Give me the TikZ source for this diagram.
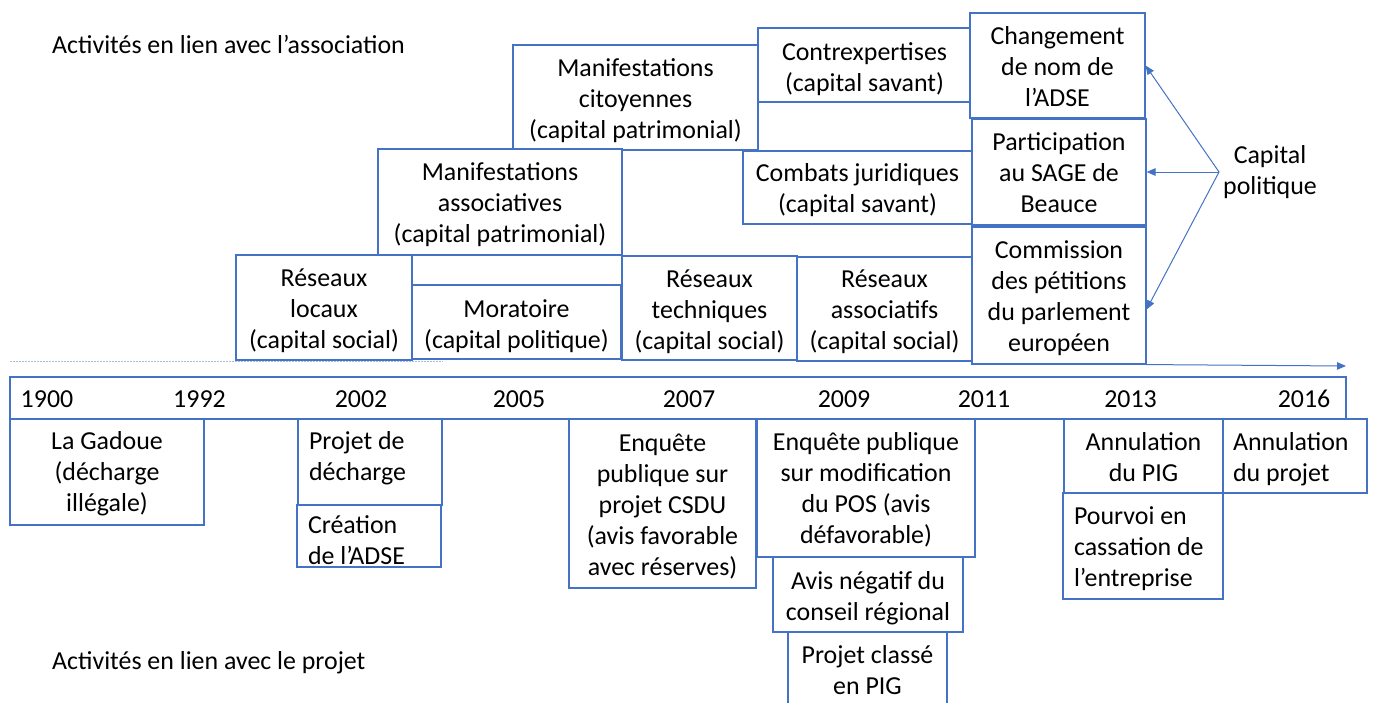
\documentclass[tikz,border=0pt]{standalone}
\usepackage{fontspec}
\setmainfont{Carlito}
\usetikzlibrary{arrows.meta,calc}
\definecolor{boxblue}{HTML}{4472C4}
\definecolor{dotblue}{HTML}{A9BCE0}
\newcommand\brk{\\\strut}
\newcommand\fnt{\fontsize{25.9}{31}\selectfont}
% \bx[text options]{name}{x1}{y1}{x2}{y2}{text offset}{text}
\newcommand\bx[8][]{%
  \node[box,minimum width={(#5-#3)*1pt},minimum height={(#6-#4)*1pt}] (#2) at ({(#3+#5)/2},{(#4+#6)/2}) {};
  \node[btxt,#1] (#2t) at ($(#2.center)+(0,#7)$) {#8};}
\tikzset{
  box/.style={draw=boxblue, fill=white, line width=1.1pt, inner sep=0pt},
  btxt/.style={inner sep=0pt, align=center, font=\fnt, execute at begin node=\strut},
  lbl/.style={inner sep=0pt, font=\fnt, execute at begin node=\strut},
  conn/.style={draw=boxblue, line width=1pt, -{Triangle[length=9pt,width=7.5pt]}},
  dotline/.style={draw=dotblue, line width=1.2pt, dash pattern=on 1.5pt off 1.5pt}
}
\begin{document}
\begin{tikzpicture}[x=1pt,y=-1pt]
\useasboundingbox (0,0) rectangle (1375,702);
% labels
\node[lbl,anchor=west] (assoc) at (52,47) {Activités en lien avec l’association};
\node[lbl,anchor=west] (proj) at (52,663) {Activités en lien avec le projet};
% top boxes
\bx{mc}{513}{45}{758}{150}{6}{Manifestations\brk citoyennes\brk (capital patrimonial)}
\bx{ce}{758}{28}{971}{102}{6.5}{Contrexpertises\brk (capital savant)}
\bx{cj}{743}{151}{972}{224}{5}{Combats juridiques\brk (capital savant)}
\bx{chg}{970}{13}{1145}{118}{6}{Changement\brk de nom de\brk l’ADSE}
\bx{sage}{972}{119}{1146}{225}{5}{Participation\brk au SAGE de\brk Beauce}
\bx{com}{972}{227}{1146}{364}{5}{Commission\brk des pétitions\brk du parlement\brk européen}
\bx{ma}{378}{149}{622}{255}{5.5}{Manifestations\brk associatives\brk (capital patrimonial)}
\bx{rl}{236}{255}{412}{360}{6}{Réseaux\brk locaux\brk (capital social)}
\bx{mor}{412}{285}{621}{359}{6.5}{Moratoire\brk (capital politique)}
\bx{rt}{622}{256}{797}{360}{5.8}{Réseaux\brk techniques\brk (capital social)}
\bx{ra}{797}{257}{972}{361}{5}{Réseaux\brk associatifs\brk (capital social)}
% dotted line
\coordinate (d0) at (10,361.5);
\coordinate (d1) at (443,361.5);
\draw[dotline] (d0) -- (d1);
% capital politique
\node[lbl,align=center] (cap) at (1270,175) {Capital\brk politique};
\coordinate (cp) at (1219,172);
\draw[conn] (cp) -- (chg.east);
\draw[conn] (cp) -- (sage.east);
\draw[conn] (cp) -- ([yshift=-14pt]com.east);
% main arrow
\coordinate (tend) at (1346,366);
\draw[conn] (com.south east) -- (tend);
% timeline
\node[box,minimum width=1336pt,minimum height=42pt] (tl) at (678,398) {};
\node[lbl] (y1900) at (47,401) {1900};
\node[lbl] (y1992) at (199.5,401) {1992};
\node[lbl] (y2002) at (361,401) {2002};
\node[lbl] (y2005) at (519,401) {2005};
\node[lbl] (y2007) at (689,401) {2007};
\node[lbl] (y2009) at (844,401) {2009};
\node[lbl] (y2011) at (984,401) {2011};
\node[lbl] (y2013) at (1130.5,401) {2013};
\node[lbl] (y2016) at (1304,401) {2016};
% bottom boxes
\bx{gad}{10}{419}{204}{525}{4.5}{La Gadoue\brk (décharge\brk illégale)}
\bx[align=flush left,text width=122pt]{pd}{298}{419}{442}{505}{-3}{Projet de\brk décharge}
\bx[align=flush left,text width=122pt]{cre}{297}{505}{441}{567}{7}{Création\brk de l’ADSE}
\bx{csdu}{569}{419}{756}{588}{5.5}{Enquête\brk publique sur\brk projet CSDU\brk (avis favorable\brk avec réserves)}
\bx{pos}{757}{419}{975}{557}{4.8}{Enquête publique\brk sur modification\brk du POS (avis\brk défavorable)}
\bx{neg}{773}{557}{963}{632}{6.5}{Avis négatif du\brk conseil régional}
\bx{pig}{788}{632}{947}{712}{3}{Projet classé\brk en PIG}
\bx{apig}{1064}{419}{1223}{493}{6}{Annulation\brk du PIG}
\bx[align=flush left,text width=138pt]{pv}{1063}{493}{1223}{599}{3.5}{Pourvoi en\brk cassation de\brk l’entreprise}
\bx[align=flush left,text width=124pt]{apr}{1223}{419}{1367}{493}{4}{Annulation\brk du projet}
\end{tikzpicture}
\end{document}
